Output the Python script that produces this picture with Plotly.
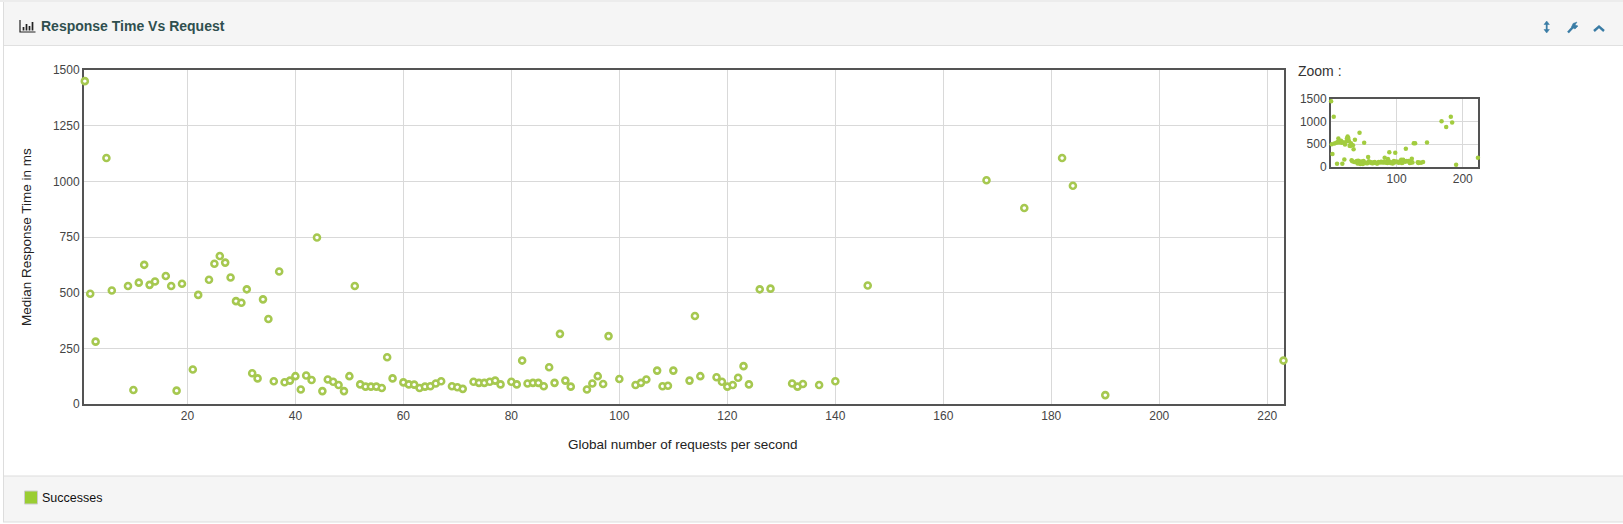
import plotly.graph_objects as go

requests_per_second = [1,2,3,5,6,9,10,11,12,13,14,16,17,18,19,21,22,24,25,26,27,28,29,30,31,32,33,34,35,36,37,38,39,40,41,42,43,44,45,46,47,48,49,50,51,52,53,54,55,56,57,58,60,61,62,63,64,65,66,67,69,70,71,73,74,75,76,77,78,80,81,82,83,84,85,86,87,88,89,90,91,94,95,96,97,98,100,103,104,105,107,108,109,110,113,114,115,118,119,120,121,122,123,124,126,128,132,133,134,137,140,146,168,175,182,184,190,223]
median_response_ms = [1450,495,280,1105,510,530,63,545,625,535,550,575,530,60,540,155,490,558,630,665,635,568,462,455,515,138,115,470,382,102,595,98,105,125,65,128,108,748,58,110,100,85,58,125,530,88,78,78,78,72,210,115,97,88,87,72,78,80,92,102,80,75,68,100,95,95,100,105,88,100,88,195,92,95,95,80,165,95,315,105,78,65,92,125,90,305,112,85,95,110,150,80,82,150,105,395,125,120,100,78,85,118,170,88,515,518,92,78,90,85,102,532,1005,880,1105,980,40,195]
main_x_ticks = [20,40,60,80,100,120,140,160,180,200,220]
main_y_ticks = [0,250,500,750,1000,1250,1500]
mini_x_ticks = [100,200]
mini_y_ticks = [0,500,1000,1500]

W, H = 1623, 524
GREEN = "#9ACD32"
FRAME = "#545454"
GRID = "#d9d9d9"
TXT = "#444444"
FONT = "Liberation Sans, Arial, sans-serif"

def fx(p): return p / W
def fy(p): return 1 - p / H

fig = go.Figure()
fig.add_trace(go.Scatter(x=requests_per_second, y=median_response_ms, mode="markers", name="Successes",
    marker=dict(symbol="circle", size=6, color="white", line=dict(color="#A6C850", width=2.6)),
    cliponaxis=False, showlegend=False))
fig.add_trace(go.Scatter(x=requests_per_second, y=median_response_ms, mode="markers", name="Successes",
    xaxis="x2", yaxis="y2", marker=dict(size=4.5, color="#A2CC3F"), cliponaxis=False, showlegend=False))

shapes = [
    dict(type="rect", xref="paper", yref="paper", x0=fx(3), x1=1, y0=fy(45), y1=fy(2), fillcolor="#f5f5f5", line=dict(width=0), layer="below"),
    dict(type="rect", xref="paper", yref="paper", x0=0, x1=1, y0=fy(2), y1=1, fillcolor="#ececec", line=dict(width=0), layer="below"),
    dict(type="line", xref="paper", yref="paper", x0=fx(3), x1=1, y0=fy(45.5), y1=fy(45.5), line=dict(color="#e0e0e0", width=1)),
    dict(type="rect", xref="paper", yref="paper", x0=fx(3), x1=1, y0=fy(522), y1=fy(476), fillcolor="#f5f5f5", line=dict(width=0), layer="below"),
    dict(type="line", xref="paper", yref="paper", x0=fx(3), x1=1, y0=fy(476), y1=fy(476), line=dict(color="#dddddd", width=1)),
    dict(type="line", xref="paper", yref="paper", x0=fx(3), x1=1, y0=fy(522), y1=fy(522), line=dict(color="#dddddd", width=1)),
    dict(type="line", xref="paper", yref="paper", x0=fx(3.5), x1=fx(3.5), y0=fy(2), y1=fy(522), line=dict(color="#dddddd", width=1)),
    dict(type="rect", xref="paper", yref="paper", x0=fx(24.5), x1=fx(37.5), y0=fy(504), y1=fy(491), fillcolor=GREEN, line=dict(color="#cccccc", width=1)),
    dict(type="path", xref="paper", yref="paper", line=dict(color="#222222", width=1.2),
         path=f"M {fx(20)} {fy(20)} L {fx(20)} {fy(32)} L {fx(35.5)} {fy(32)}"),
]
for px, top in [(23.5, 27), (26.5, 24), (29.5, 26), (32.5, 22)]:
    shapes.append(dict(type="line", xref="paper", yref="paper", x0=fx(px), x1=fx(px), y0=fy(top), y1=fy(30.5), line=dict(color="#222222", width=1.7)))
ICON = "#3a7ca5"
shapes += [
    dict(type="path", xref="paper", yref="paper", line=dict(color=ICON, width=1.8),
         path=f"M {fx(1546.7)} {fy(23)} L {fx(1546.7)} {fy(31)}"),
    dict(type="path", xref="paper", yref="paper", fillcolor=ICON, line=dict(color=ICON, width=0.5),
         path=f"M {fx(1544)} {fy(24.5)} L {fx(1546.7)} {fy(21)} L {fx(1549.4)} {fy(24.5)} Z"),
    dict(type="path", xref="paper", yref="paper", fillcolor=ICON, line=dict(color=ICON, width=0.5),
         path=f"M {fx(1544)} {fy(29.5)} L {fx(1546.7)} {fy(33)} L {fx(1549.4)} {fy(29.5)} Z"),
    dict(type="path", xref="paper", yref="paper", line=dict(color=ICON, width=2.4),
         path=f"M {fx(1568)} {fy(32.5)} L {fx(1574)} {fy(26)}"),
    dict(type="path", xref="paper", yref="paper", fillcolor=ICON, line=dict(color=ICON, width=0.5),
         path=f"M {fx(1571.5)} {fy(27)} L {fx(1573)} {fy(23.5)} L {fx(1577)} {fy(22)} L {fx(1575)} {fy(25)} L {fx(1578)} {fy(26)} L {fx(1575)} {fy(29)} Z"),
    dict(type="path", xref="paper", yref="paper", line=dict(color=ICON, width=2.4),
         path=f"M {fx(1594)} {fy(31)} L {fx(1599)} {fy(26.5)} L {fx(1604)} {fy(31)}"),
]

annotations = [
    dict(text="<b>Response Time Vs Request</b>", x=fx(39), y=fy(26.5), xref="paper", yref="paper", xanchor="left", yanchor="middle",
         showarrow=False, font=dict(family=FONT, size=14, color="#2f4f4f")),
    dict(text="Zoom :", x=fx(1295.5), y=fy(71), xref="paper", yref="paper", xanchor="left", yanchor="middle",
         showarrow=False, font=dict(family=FONT, size=14, color="#333333")),
    dict(text="Successes", x=fx(40), y=fy(497.5), xref="paper", yref="paper", xanchor="left", yanchor="middle",
         showarrow=False, font=dict(family=FONT, size=12.5, color="#111111")),
    dict(text="Global number of requests per second", x=fx(683), y=fy(444.5), xref="paper", yref="paper", xanchor="center", yanchor="middle",
         showarrow=False, font=dict(family=FONT, size=13.5, color="#222222")),
    dict(text="Median Response Time in ms", x=fx(26), y=fy(237), xref="paper", yref="paper", xanchor="center", yanchor="middle",
         showarrow=False, textangle=-90, font=dict(family=FONT, size=13.5, color="#222222")),
]

common = dict(automargin=False, showline=True, linecolor=FRAME, linewidth=2, mirror=True, zeroline=False, layer="below traces",
              ticks="", showgrid=True, gridcolor=GRID, gridwidth=1, tickfont=dict(size=12, color=TXT))

fig.update_layout(
    width=W, height=H, autosize=False, margin=dict(l=0, r=0, t=0, b=0),
    paper_bgcolor="white", plot_bgcolor="white", showlegend=False,
    font=dict(family=FONT, size=12, color=TXT),
    shapes=shapes, annotations=annotations,
    xaxis=dict(domain=[fx(84), fx(1284)], range=[0.85, 223.1], tickvals=main_x_ticks, anchor="y", **common),
    yaxis=dict(domain=[fy(404), fy(70)], range=[0, 1500], tickvals=main_y_ticks, anchor="x", **common),
    xaxis2=dict(domain=[fx(1331), fx(1478)], range=[0.85, 223.1], tickvals=mini_x_ticks, anchor="y2", **common),
    yaxis2=dict(domain=[fy(166.5), fy(99)], range=[0, 1500], tickvals=mini_y_ticks, anchor="x2", **common),
)

fig.write_html("out.html", config=dict(displayModeBar=False),
               post_script="document.body.style.margin='0';document.body.style.overflow='hidden';")
